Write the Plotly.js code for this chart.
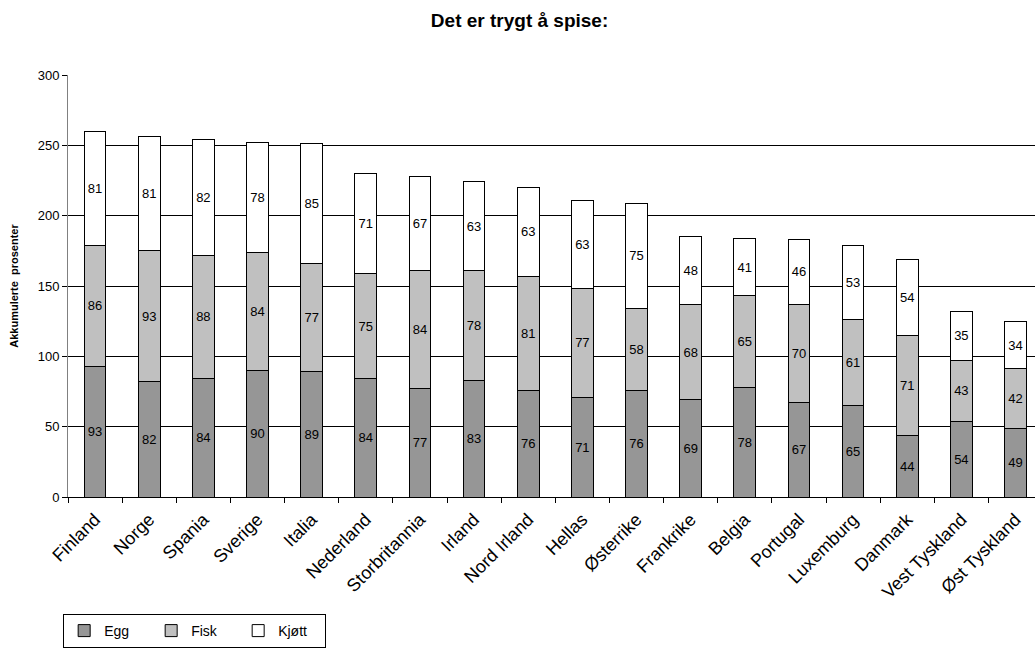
<!DOCTYPE html>
<html>
<head>
<meta charset="utf-8">
<script src="https://cdn.plot.ly/plotly-3.0.1.min.js"></script>
<style>body{margin:0;padding:0;background:#fff}#chart{width:1035px;height:648px}</style>
</head>
<body>
<div id="chart"></div>
<script>
const categories = ["Finland","Norge","Spania","Sverige","Italia","Nederland","Storbritannia","Irland","Nord Irland","Hellas","Østerrike","Frankrike","Belgia","Portugal","Luxemburg","Danmark","Vest Tyskland","Øst Tyskland"];
const egg   = [93,82,84,90,89,84,77,83,76,71,76,69,78,67,65,44,54,49];
const fisk  = [86,93,88,84,77,75,84,78,81,77,58,68,65,70,61,71,43,42];
const kjott = [81,81,82,78,85,71,67,63,63,63,75,48,41,46,53,54,35,34];
const yTicks = [0,50,100,150,200,250,300];

function trace(name, vals, color) {
  return {
    type: 'bar', name: name, x: categories, y: vals,
    text: vals.map(String), textposition: 'inside', insidetextanchor: 'middle',
    textangle: 0, constraintext: 'none',
    textfont: {family: 'Arial, Liberation Sans, sans-serif', size: 13, color: '#000'},
    marker: {color: color, line: {color: '#000', width: 1}},
    width: 0.4, hoverinfo: 'none'
  };
}

const data = [
  trace('Egg', egg, '#969696'),
  trace('Fisk', fisk, '#c0c0c0'),
  trace('Kjøtt', kjott, '#ffffff')
];

const layout = {
  width: 1035, height: 648,
  barmode: 'stack',
  paper_bgcolor: '#fff', plot_bgcolor: '#fff',
  margin: {l: 68, r: 0, t: 75, b: 149, pad: 0},
  font: {family: 'Arial, Liberation Sans, sans-serif', size: 13, color: '#000'},
  title: {text: '<b>Det er trygt å spise:</b>', x: 0.502, xanchor: 'center', y: 0.968, yanchor: 'middle',
          font: {size: 19, family: 'Arial, Liberation Sans, sans-serif'}},
  xaxis: {
    type: 'category', range: [-0.5, 17.36],
    ticks: 'outside', tickson: 'boundaries', ticklen: 5, tickcolor: '#000',
    tickangle: -45, showline: true, linecolor: '#000', linewidth: 1,
    showgrid: false, zeroline: false, ticklabelstandoff: 4,
    tickfont: {size: 18}
  },
  yaxis: {
    range: [0, 300], tickvals: yTicks, ticktext: yTicks.map(String),
    ticks: 'outside', ticklen: 5, tickcolor: '#000',
    showline: true, linecolor: '#808080', linewidth: 1,
    showgrid: true, gridcolor: '#000', gridwidth: 1, zeroline: false,
    tickfont: {size: 13},
    title: {text: '<b>Akkumulerte  prosenter</b>', font: {size: 11}, standoff: 16}
  },
  legend: {
    orientation: 'h', x: -0.005, xanchor: 'left', y: -0.278, yanchor: 'top',
    bordercolor: '#000', borderwidth: 1, bgcolor: '#fff',
    font: {size: 14}, traceorder: 'normal',
    entrywidth: 42, entrywidthmode: 'pixels'
  },
  showlegend: true
};

Plotly.newPlot('chart', data, layout, {displayModeBar: false, staticPlot: true});
</script>
</body>
</html>
